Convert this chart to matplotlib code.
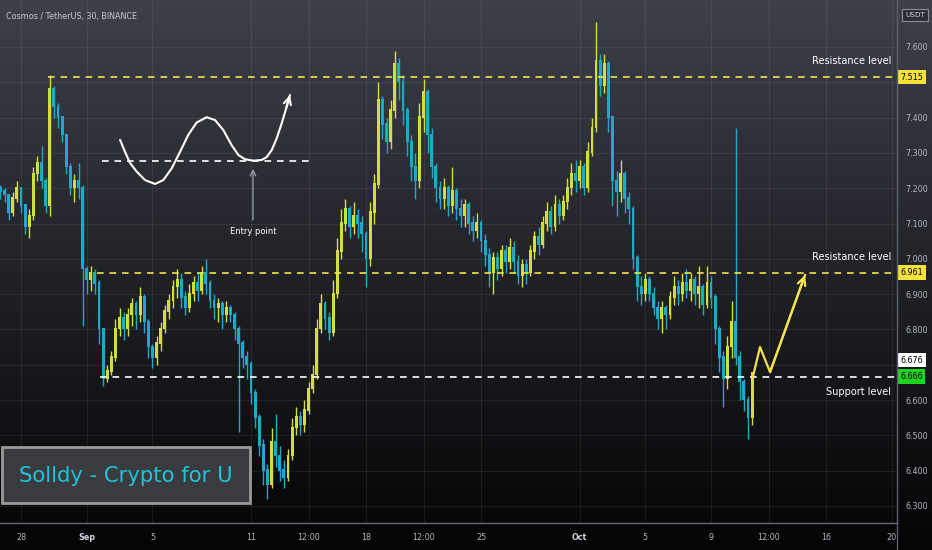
import numpy as np
import matplotlib.pyplot as plt
from matplotlib import font_manager
from matplotlib.lines import Line2D
from matplotlib.patches import Rectangle

# ATOM/USDT, resampled to 6h candles
# x is in days, day 0 = Aug 28
first_day = -1.25
step = 0.25
first_open = 7.20
close = [7.19, 7.18, 7.13, 7.17, 7.20, 7.15, 7.09, 7.12, 7.24, 7.27,
         7.22, 7.15, 7.48, 7.43, 7.40, 7.35, 7.26, 7.20, 7.22, 7.20,
         6.97, 6.94, 6.96, 6.93, 6.80, 6.66, 6.68, 6.72, 6.80, 6.83,
         6.80, 6.84, 6.87, 6.84, 6.89, 6.82, 6.75, 6.72, 6.76, 6.80,
         6.85, 6.88, 6.92, 6.94, 6.89, 6.86, 6.90, 6.93, 6.91, 6.96,
         6.93, 6.88, 6.86, 6.87, 6.84, 6.86, 6.84, 6.80, 6.76, 6.72,
         6.70, 6.62, 6.55, 6.47, 6.40, 6.36, 6.48, 6.44, 6.40, 6.38,
         6.44, 6.52, 6.55, 6.53, 6.57, 6.63, 6.67, 6.80, 6.87, 6.83,
         6.79, 6.90, 7.02, 7.10, 7.14, 7.09, 7.12, 7.10, 7.07, 7.00,
         7.13, 7.21, 7.45, 7.38, 7.33, 7.42, 7.55, 7.50, 7.42, 7.33,
         7.26, 7.22, 7.40, 7.47, 7.35, 7.26, 7.20, 7.17, 7.20, 7.15,
         7.19, 7.14, 7.12, 7.15, 7.10, 7.08, 7.10, 7.05, 7.01, 6.96,
         7.00, 6.97, 7.02, 6.99, 7.03, 6.99, 6.95, 6.98, 6.96, 7.02,
         7.06, 7.04, 7.10, 7.13, 7.09, 7.15, 7.12, 7.16, 7.20, 7.24,
         7.22, 7.26, 7.20, 7.30, 7.37, 7.56, 7.49, 7.55, 7.40, 7.22,
         7.19, 7.24, 7.17, 7.14, 7.00, 6.92, 6.90, 6.94, 6.90, 6.86,
         6.83, 6.86, 6.84, 6.89, 6.92, 6.90, 6.93, 6.91, 6.94, 6.90,
         6.92, 6.87, 6.93, 6.89, 6.80, 6.72, 6.66, 6.75, 6.82, 6.72,
         6.65, 6.60, 6.55, 6.676]
high = [7.21, 7.20, 7.18, 7.19, 7.22, 7.20, 7.15, 7.14, 7.26, 7.29,
        7.32, 7.23, 7.52, 7.49, 7.44, 7.40, 7.34, 7.27, 7.24, 7.27,
        7.21, 6.98, 6.98, 6.97, 6.94, 6.80, 6.70, 6.74, 6.83, 6.86,
        6.85, 6.86, 6.89, 6.88, 6.92, 6.90, 6.83, 6.76, 6.78, 6.82,
        6.87, 6.90, 6.94, 6.97, 6.96, 6.91, 6.93, 6.95, 6.96, 6.98,
        7.00, 6.94, 6.90, 6.89, 6.88, 6.88, 6.87, 6.85, 6.81, 6.77,
        6.74, 6.71, 6.63, 6.56, 6.49, 6.42, 6.52, 6.56, 6.47, 6.43,
        6.46, 6.55, 6.58, 6.57, 6.60, 6.65, 6.70, 6.83, 6.90, 6.88,
        6.85, 6.94, 7.06, 7.14, 7.17, 7.15, 7.16, 7.14, 7.12, 7.08,
        7.16, 7.24, 7.50, 7.46, 7.40, 7.45, 7.59, 7.57, 7.52, 7.43,
        7.35, 7.30, 7.44, 7.51, 7.48, 7.37, 7.27, 7.22, 7.23, 7.21,
        7.26, 7.20, 7.17, 7.17, 7.16, 7.12, 7.13, 7.11, 7.07, 7.03,
        7.02, 7.02, 7.04, 7.04, 7.06, 7.05, 7.01, 7.00, 7.00, 7.04,
        7.08, 7.09, 7.12, 7.16, 7.15, 7.18, 7.17, 7.18, 7.23, 7.27,
        7.28, 7.28, 7.27, 7.33, 7.40, 7.67, 7.58, 7.58, 7.56, 7.40,
        7.25, 7.28, 7.25, 7.19, 7.15, 7.01, 6.95, 6.96, 6.95, 6.92,
        6.88, 6.88, 6.87, 6.91, 6.95, 6.94, 6.96, 6.97, 6.96, 6.95,
        6.98, 6.93, 6.98, 6.95, 6.90, 6.81, 6.74, 6.78, 6.88, 7.37,
        6.74, 6.66, 6.61, 6.68]
low = [7.17, 7.16, 7.11, 7.12, 7.16, 7.13, 7.07, 7.06, 7.11, 7.22,
       7.20, 7.13, 7.12, 7.40, 7.37, 7.33, 7.24, 7.18, 7.16, 7.17,
       6.81, 6.90, 6.91, 6.90, 6.76, 6.64, 6.65, 6.67, 6.71, 6.78,
       6.77, 6.78, 6.81, 6.80, 6.82, 6.79, 6.72, 6.69, 6.70, 6.74,
       6.79, 6.83, 6.86, 6.89, 6.86, 6.84, 6.85, 6.88, 6.88, 6.90,
       6.90, 6.86, 6.83, 6.82, 6.80, 6.82, 6.82, 6.77, 6.51, 6.69,
       6.66, 6.59, 6.52, 6.44, 6.36, 6.32, 6.35, 6.41, 6.37, 6.35,
       6.37, 6.43, 6.50, 6.50, 6.51, 6.56, 6.62, 6.66, 6.79, 6.80,
       6.77, 6.78, 6.89, 7.00, 7.08, 7.06, 7.07, 7.06, 7.02, 6.92,
       6.98, 7.10, 7.20, 7.34, 7.30, 7.31, 7.40, 7.45, 7.38, 7.29,
       7.22, 7.17, 7.20, 7.36, 7.30, 7.23, 7.16, 7.14, 7.14, 7.12,
       7.13, 7.11, 7.09, 7.09, 7.07, 7.05, 7.06, 7.02, 6.98, 6.92,
       6.90, 6.94, 6.95, 6.96, 6.97, 6.96, 6.93, 6.92, 6.93, 6.95,
       7.00, 7.01, 7.03, 7.08, 7.07, 7.08, 7.10, 7.11, 7.14, 7.18,
       7.19, 7.20, 7.18, 7.19, 7.29, 7.36, 7.46, 7.47, 7.36, 7.15,
       7.12, 7.16, 7.13, 7.10, 6.97, 6.88, 6.87, 6.88, 6.88, 6.84,
       6.80, 6.79, 6.80, 6.83, 6.87, 6.87, 6.88, 6.89, 6.88, 6.87,
       6.86, 6.84, 6.86, 6.86, 6.76, 6.68, 6.58, 6.63, 6.72, 6.70,
       6.60, 6.57, 6.49, 6.53]

# horizontal levels drawn on the chart (price, start day)
resistance_hi = 7.515
resistance_lo = 6.961
support = 6.666
last_price = 6.676
level_start = {'hi': 1.64, 'lo': 4.63, 'sup': 4.8}

# price axis / time axis ticks
price_ticks = [6.3, 6.4, 6.5, 6.6, 6.7, 6.8, 6.9, 7.0, 7.1, 7.2, 7.3, 7.4, 7.5, 7.6]
time_ticks = [0, 4, 8, 14, 17.5, 21, 24.5, 28, 34, 38, 42, 45.5, 49, 53]
time_labels = ['28', 'Sep', '5', '11', '12:00', '18', '12:00', '25',
               'Oct', '5', '9', '12:00', '16', '20']

# hand drawn sketch: double bottom idea (day, price)
sketch_t = [6.03, 6.33, 6.63, 7.04, 7.55, 8.16, 8.66, 9.17, 9.68, 10.18,
            10.69, 11.30, 11.81, 12.31, 12.82, 13.23, 13.63, 14.14, 14.65, 14.95,
            15.26, 15.56, 15.87, 16.17, 16.37]
sketch_p = [7.337, 7.303, 7.272, 7.247, 7.223, 7.212, 7.223, 7.256, 7.303, 7.351,
            7.386, 7.401, 7.393, 7.365, 7.322, 7.294, 7.282, 7.278, 7.280, 7.288,
            7.308, 7.341, 7.384, 7.431, 7.464]
sketch_line = 7.277
# projected path (yellow)
proj_t = [44.5, 44.98, 45.59, 47.72]
proj_p = [6.657, 6.75, 6.679, 6.954]

W, H = 932, 550
px_day = 16.43          # pixels per day
x0_px = 21              # pixel position of day 0
right_px, bottom_px = 897, 523

names = {f.name for f in font_manager.fontManager.ttflist}
narrow = 'Liberation Sans Narrow' in names
plt.rcParams['font.family'] = ['Liberation Sans Narrow', 'DejaVu Sans'] if narrow else ['DejaVu Sans']
k = 1.0 if narrow else 0.8

txt_col = '#b2b5be'
up_col = '#d2de3a'
dn_col = '#1ea9c8'

fig = plt.figure(figsize=(W / 100, H / 100), dpi=100)

# background gradient
bg = fig.add_axes([0, 0, 1, 1], zorder=0)
top = np.array([62, 64, 74]) / 255
bot = np.array([4, 4, 5]) / 255
f = np.linspace(0, 1, 256)[:, None]
grad = top * (1 - f) + bot * f
bg.imshow(grad[:, None, :], aspect='auto', extent=[0, 1, 0, 1])
bg.axis('off')

ax = fig.add_axes([0, 1 - bottom_px / H, right_px / W, bottom_px / H], zorder=1)
ax.patch.set_alpha(0)
ax.set_xlim(-x0_px / px_day, (right_px - x0_px) / px_day)
ax.set_ylim(7.6 - (bottom_px - 47) / 353, 7.6 + 47 / 353)
for s in ax.spines.values():
    s.set_visible(False)

# candles
c = np.array(close)
o = np.r_[first_open, c[:-1]]
hi = np.maximum(np.array(high), np.maximum(o, c))
lo = np.minimum(np.array(low), np.minimum(o, c))
t = first_day + step * np.arange(len(c))
cols = np.where(c >= o, up_col, dn_col)
ax.vlines(t, lo, hi, colors=cols, lw=1.0, zorder=3)
ax.bar(t, np.abs(c - o) + 0.004, bottom=np.minimum(o, c), width=step * 0.7,
       color=cols, linewidth=0, zorder=3)

# grid + ticks
ax.set_yticks(price_ticks)
ax.set_yticklabels(['' if p in (6.7, 7.5) else f'{p:.3f}' for p in price_ticks])
ax.yaxis.tick_right()
ax.set_xticks(time_ticks)
ax.set_xticklabels(time_labels)
ax.tick_params(length=0, colors=txt_col, labelsize=7.2 * k)
ax.tick_params(axis='y', pad=6)
ax.tick_params(axis='x', pad=7)
for lab in ax.get_xticklabels():
    if lab.get_text() in ('Sep', 'Oct'):
        lab.set_fontweight('bold')
        lab.set_color('#d1d4dc')
ax.grid(color='white', alpha=0.07, lw=0.8)
ax.set_axisbelow(True)

# levels
x_end = ax.get_xlim()[1]
ax.plot([level_start['hi'], x_end], [resistance_hi] * 2, color='#f2e34a', lw=1.2,
        dashes=(4, 3.5), zorder=4)
ax.plot([level_start['lo'], x_end], [resistance_lo] * 2, color='#f2e34a', lw=1.2,
        dashes=(4, 3.5), zorder=4)
ax.plot([level_start['sup'], x_end], [support] * 2, color='white', lw=1.2,
        dashes=(4, 3.5), zorder=4)
xr = (right_px - 6 - x0_px) / px_day
ax.text(xr, resistance_hi + 0.03, 'Resistance level', color='white', ha='right',
        va='bottom', fontsize=8.8 * k, zorder=5)
ax.text(xr, resistance_lo + 0.03, 'Resistance level', color='white', ha='right',
        va='bottom', fontsize=8.8 * k, zorder=5)
ax.text(xr, support - 0.03, 'Support level', color='white', ha='right',
        va='top', fontsize=8.8 * k, zorder=5)

# price labels on the axis
ytr = ax.get_yaxis_transform()
def tag(y, s, fc, tc='black'):
    ax.text(1.0035, y, s, transform=ytr, ha='left', va='center', fontsize=7.2 * k,
            color=tc, zorder=6, clip_on=False,
            bbox=dict(boxstyle='square,pad=0.35', fc=fc, ec='none'))
tag(resistance_hi, f'{resistance_hi:.3f}', '#f5e33a')
tag(resistance_lo, f'{resistance_lo:.3f}', '#f5e33a')
tag(last_price + 0.037, f'{last_price:.3f}', 'white')
tag(support, f'{support:.3f}', '#1fd31f')

# sketch of the pattern
ax.plot(sketch_t, sketch_p, color='white', lw=1.5, zorder=5, solid_capstyle='round',
        solid_joinstyle='round')
ax.annotate('', xy=(sketch_t[-1], sketch_p[-1]), xytext=(sketch_t[-2], sketch_p[-2]),
            arrowprops=dict(arrowstyle='->', color='white', lw=1.5, mutation_scale=13,
                            shrinkA=0, shrinkB=0), zorder=5)
ax.plot([4.93, 17.8], [sketch_line] * 2, color='white', lw=1.2, dashes=(4, 3.5), zorder=5)
ax.annotate('', xy=(14.12, 7.255), xytext=(14.12, 7.11),
            arrowprops=dict(arrowstyle='->', color='#9598a1', lw=1, shrinkA=0, shrinkB=0))
ax.text(14.12, 7.078, 'Entry point', color='white', ha='center', va='center',
        fontsize=7.5 * k, zorder=5)

# projected move
ax.plot(proj_t, proj_p, color='#f5e24a', lw=1.6, zorder=5)
ax.annotate('', xy=(proj_t[-1], proj_p[-1]), xytext=(proj_t[-2], proj_p[-2]),
            arrowprops=dict(arrowstyle='->', color='#f5e24a', lw=1.6, mutation_scale=14,
                            shrinkA=0, shrinkB=0), zorder=5)

# frame lines
fig.add_artist(Line2D([right_px / W] * 2, [0, 1], color='#5d606b', lw=1))
fig.add_artist(Line2D([0, right_px / W], [1 - bottom_px / H] * 2, color='#6a6d78', lw=1))

# header + currency box
fig.text(6 / W, 1 - 16 / H, 'Cosmos / TetherUS, 30, BINANCE', color='#c7c9d0',
         fontsize=7.2 * k, ha='left', va='center')
fig.text(915 / W, 1 - 15 / H, 'USDT', color='#d1d4dc', fontsize=6.5 * k, ha='center',
         va='center', bbox=dict(boxstyle='square,pad=0.4', fc='#2a2d35', ec='#8a8d96', lw=0.8))

# watermark
fig.add_artist(Rectangle((2 / W, 1 - 503 / H), 248 / W, 56 / H, transform=fig.transFigure,
                         fc='#3a3b3e', ec='#9a9a9a', lw=2, zorder=7))
fig.text(126 / W, 1 - 476 / H, 'Solldy - Crypto for U', color='#1ec3dc',
         fontsize=19 * k, ha='center', va='center', zorder=8)

fig.savefig('out.png', dpi=100)
